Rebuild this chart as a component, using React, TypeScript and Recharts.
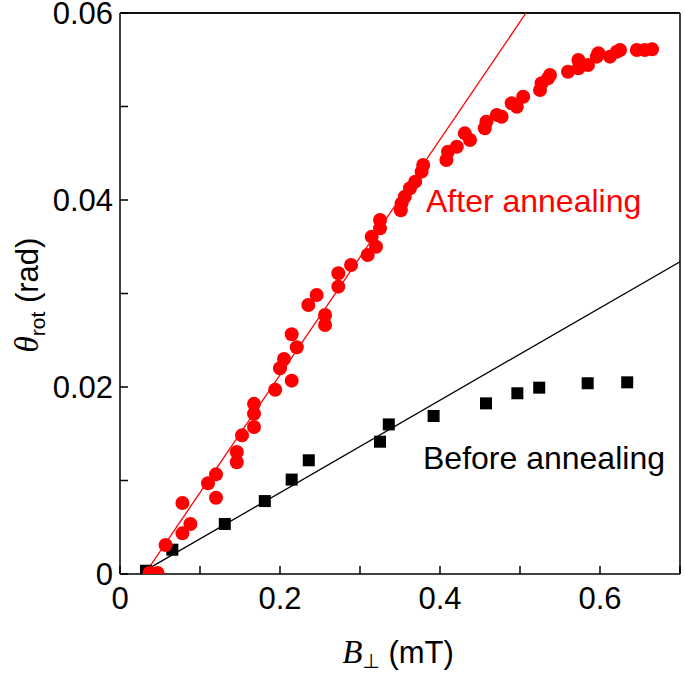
import React from 'react';
import { ScatterChart, Scatter, XAxis, YAxis, ReferenceLine } from 'recharts';

const afterX = [0.037, 0.047, 0.057, 0.078, 0.088, 0.078, 0.11, 0.12, 0.12, 0.146, 0.146, 0.1525, 0.1675, 0.1675, 0.1675, 0.194, 0.2, 0.205, 0.2146, 0.221, 0.2146, 0.2354, 0.2458, 0.2563, 0.2563, 0.2729, 0.2729, 0.2888, 0.3096, 0.3146, 0.32, 0.325, 0.325, 0.351, 0.352, 0.356, 0.3625, 0.369, 0.377, 0.379, 0.408, 0.41, 0.421, 0.431, 0.4375, 0.456, 0.458, 0.471, 0.477, 0.4896, 0.496, 0.504, 0.525, 0.527, 0.535, 0.5375, 0.56, 0.573, 0.573, 0.585, 0.596, 0.598, 0.6125, 0.621, 0.625, 0.646, 0.656, 0.665];
const afterY = [0.0001, 0.0001, 0.0031, 0.00435, 0.00535, 0.0076, 0.0097, 0.01066, 0.00816, 0.01195, 0.01305, 0.01483, 0.01572, 0.01714, 0.0182, 0.0197, 0.022, 0.023, 0.02068, 0.02425, 0.02564, 0.02877, 0.02984, 0.0277, 0.02663, 0.03216, 0.03073, 0.03305, 0.03412, 0.03608, 0.035, 0.03786, 0.03697, 0.0389, 0.03964, 0.04035, 0.04125, 0.04196, 0.04303, 0.04374, 0.04428, 0.04517, 0.0457, 0.04713, 0.04642, 0.04767, 0.04838, 0.0491, 0.0489, 0.05034, 0.04998, 0.05105, 0.05176, 0.05248, 0.05301, 0.05337, 0.05372, 0.05408, 0.05497, 0.05444, 0.05533, 0.0557, 0.05533, 0.05586, 0.05604, 0.05604, 0.05604, 0.05612];

const beforeX = [0.0325, 0.0654, 0.131, 0.181, 0.2146, 0.236, 0.325, 0.336, 0.392, 0.4575, 0.4967, 0.524, 0.5846, 0.634];
const beforeY = [0.00035, 0.0026, 0.00535, 0.0078, 0.0101, 0.01216, 0.01415, 0.016, 0.0169, 0.01825, 0.01933, 0.01993, 0.0204, 0.0205];

const afterFitX = [0.034, 0.5075];
const afterFitY = [0.0004, 0.06];
const beforeFitX = [0.034, 0.7];
const beforeFitY = [0.0005, 0.0334];

const xTicks = [0, 0.1, 0.2, 0.3, 0.4, 0.5, 0.6, 0.7];
const xTickLabels = ['0', '', '0.2', '', '0.4', '', '0.6', ''];
const yTicks = [0, 0.01, 0.02, 0.03, 0.04, 0.05, 0.06];
const yTickLabels = ['0', '', '0.02', '', '0.04', '', '0.06'];

const zip = (xs: number[], ys: number[]) => xs.map((x, i) => ({ x, y: ys[i] }));

const afterData = zip(afterX, afterY);
const beforeData = zip(beforeX, beforeY);
const afterFit = zip(afterFitX, afterFitY);
const beforeFit = zip(beforeFitX, beforeFitY);

const SANS = '"Liberation Sans", Arial, Helvetica, sans-serif';
const SERIF = '"Liberation Serif", "Times New Roman", serif';
const FS = 31;

const RedDot = (p: any) => <circle cx={p.cx} cy={p.cy} r={7} fill="#ff0000" />;
const BlackSquare = (p: any) => <rect x={p.cx - 6} y={p.cy - 6} width={12} height={12} fill="#000" />;
const NoShape = () => <g />;

const tickStyle = { fontSize: FS, fill: '#000', fontFamily: SANS };

export default function App() {
  return (
    <div style={{ position: 'absolute', left: 0, top: 0, width: 685, height: 674, background: '#fff' }}>
      <ScatterChart width={685} height={674} margin={{ top: 12, right: 4, bottom: 40, left: 20 }}>
        <XAxis
          type="number"
          dataKey="x"
          domain={[0, 0.7]}
          ticks={xTicks}
          interval={0}
          allowDataOverflow
          tickFormatter={(v: number) => xTickLabels[xTicks.indexOf(v)] ?? ''}
          tickSize={-8}
          tickMargin={21}
          height={60}
          tick={tickStyle}
          stroke="#000"
          strokeWidth={1.5}
        />
        <YAxis
          type="number"
          dataKey="y"
          domain={[0, 0.06]}
          ticks={yTicks}
          interval={0}
          allowDataOverflow
          tickFormatter={(v: number) => yTickLabels[yTicks.indexOf(v)] ?? ''}
          tickSize={-8}
          tickMargin={15}
          width={100}
          tick={tickStyle}
          stroke="#000"
          strokeWidth={1.5}
        />
        <XAxis
          xAxisId="top"
          orientation="top"
          type="number"
          domain={[0, 0.7]}
          ticks={xTicks}
          interval={0}
          allowDataOverflow
          tick={false}
          tickSize={-8}
          height={1}
          stroke="#000"
          strokeWidth={1.5}
        />
        <YAxis
          yAxisId="right"
          orientation="right"
          type="number"
          domain={[0, 0.06]}
          ticks={yTicks}
          interval={0}
          allowDataOverflow
          tick={false}
          tickSize={-8}
          width={1}
          stroke="#000"
          strokeWidth={1.5}
        />
        <ReferenceLine y={0.06} stroke="#000" strokeWidth={1.5} />
        <Scatter data={beforeFit} line={{ stroke: '#000', strokeWidth: 1.3 }} shape={NoShape} isAnimationActive={false} />
        <Scatter data={afterFit} line={{ stroke: '#ff0000', strokeWidth: 1.3 }} shape={NoShape} isAnimationActive={false} />
        <Scatter data={beforeData} shape={BlackSquare} isAnimationActive={false} />
        <Scatter data={afterData} shape={RedDot} isAnimationActive={false} />
      </ScatterChart>
      <svg width={685} height={674} style={{ position: 'absolute', left: 0, top: 0, pointerEvents: 'none' }}>
        <text x={426} y={212} fontSize={32} fill="#ff0000" fontFamily={SANS}>After annealing</text>
        <text x={423} y={469} fontSize={32} fill="#000" fontFamily={SANS}>Before annealing</text>
        <text x={398} y={663} fontSize={FS} fill="#000" fontFamily={SANS} textAnchor="middle">
          <tspan fontFamily={SERIF} fontStyle="italic" fontSize={33}>B</tspan>
          <tspan fontSize={20} dy={5} fontFamily='"DejaVu Sans", sans-serif'>⊥</tspan>
          <tspan dy={-5}> (mT)</tspan>
        </text>
        <text x={0} y={0} transform="translate(38,295) rotate(-90)" fontSize={FS} fill="#000" fontFamily={SANS} textAnchor="middle">
          <tspan fontFamily={SERIF} fontStyle="italic" fontSize={33}>θ</tspan>
          <tspan fontSize={21} dy={7}>rot</tspan>
          <tspan dy={-7}> (rad)</tspan>
        </text>
      </svg>
    </div>
  );
}
